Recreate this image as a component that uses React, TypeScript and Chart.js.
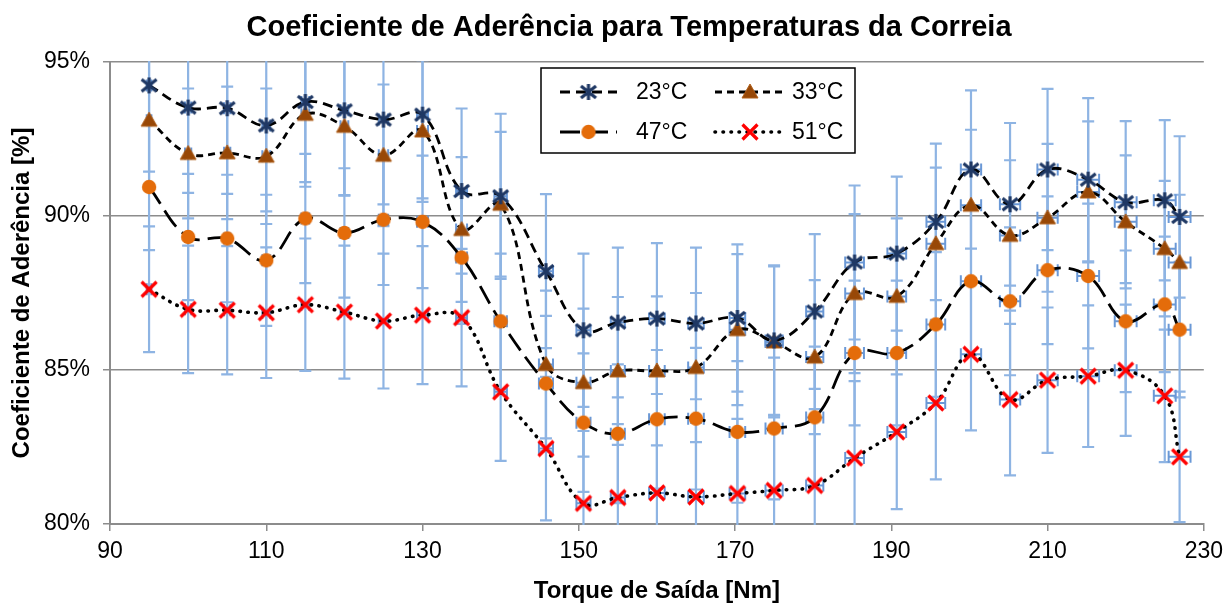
import React, { useEffect, useRef } from 'react';
import { Chart, registerables } from 'chart.js';

Chart.register(...registerables);

const FONT = "'Liberation Sans', Arial, sans-serif";

const chartTitle = 'Coeficiente de Aderência para Temperaturas da Correia';
const xTitle = 'Torque de Saída [Nm]';
const yTitle = 'Coeficiente de Aderência [%]';

const seriesLabels = ['23°C', '33°C', '47°C', '51°C'];

const torque = [95, 100, 105, 110, 115, 120, 125, 130, 135, 140, 145.8, 150.6, 155, 160, 165, 170.3, 175, 180.2, 185.3, 190.7, 195.7, 200.2, 205.2, 210, 215.2, 220, 225, 226.9];

const coef23 = [94.24, 93.52, 93.5, 92.94, 93.7, 93.43, 93.13, 93.29, 90.81, 90.64, 88.21, 86.29, 86.54, 86.67, 86.51, 86.69, 85.96, 86.9, 88.49, 88.78, 89.81, 91.51, 90.38, 91.51, 91.18, 90.45, 90.51, 89.97];
const coef33 = [93.11, 92.03, 92.05, 91.94, 93.3, 92.91, 91.97, 92.76, 89.56, 90.38, 85.18, 84.59, 84.97, 84.97, 85.08, 86.31, 85.91, 85.42, 87.48, 87.39, 89.1, 90.35, 89.37, 89.94, 90.78, 89.81, 88.94, 88.49];
const coef47 = [90.94, 89.32, 89.27, 88.56, 89.92, 89.45, 89.88, 89.81, 88.65, 86.58, 84.56, 83.29, 82.93, 83.4, 83.42, 82.99, 83.1, 83.46, 85.55, 85.55, 86.48, 87.88, 87.23, 88.24, 88.05, 86.58, 87.13, 86.31];
const coef51 = [87.62, 86.97, 86.94, 86.86, 87.12, 86.88, 86.59, 86.78, 86.7, 84.29, 82.45, 80.67, 80.86, 81.01, 80.88, 80.99, 81.09, 81.25, 82.14, 82.99, 83.93, 85.51, 84.04, 84.67, 84.8, 84.99, 84.16, 82.18];

const err23 = [2.8, 2.77, 2.78, 2.79, 2.75, 2.75, 2.75, 2.72, 2.68, 2.68, 2.5, 2.49, 2.43, 2.45, 2.46, 2.39, 2.44, 2.51, 2.5, 2.5, 2.54, 2.57, 2.64, 2.62, 2.65, 2.63, 2.6, 2.62];
const err33 = [2.1, 2.11, 2.15, 2.2, 2.2, 2.25, 2.3, 2.3, 2.35, 2.35, 2.4, 2.4, 2.4, 2.42, 2.42, 2.45, 2.45, 2.5, 2.58, 2.53, 2.47, 2.45, 2.44, 2.4, 2.29, 2.16, 2.2, 2.2];
const err47 = [2.05, 2.05, 2.07, 2.13, 2.1, 2.1, 2.12, 2.15, 2.15, 2.2, 2.2, 2.25, 2.25, 2.25, 2.3, 2.3, 2.3, 2.3, 2.35, 2.35, 2.35, 2.4, 2.4, 2.4, 2.35, 2.3, 2.2, 2.2];
const err51 = [2.04, 2.07, 2.08, 2.12, 2.15, 2.16, 2.19, 2.24, 2.23, 2.24, 2.33, 2.35, 2.38, 2.4, 2.4, 2.42, 2.45, 2.48, 2.5, 2.51, 2.48, 2.47, 2.46, 2.36, 2.3, 2.13, 2.15, 2.12];

const torqueErr = [0.3, 0.4, 0.4, 0.5, 0.5, 0.5, 0.6, 0.7, 0.7, 0.8, 0.9, 0.9, 0.9, 1.0, 1.0, 1.0, 1.1, 1.1, 1.2, 1.2, 1.2, 1.3, 1.3, 1.3, 1.4, 1.4, 1.4, 1.4];

const xTicksMin = 90;
const xTicksMax = 230;
const xTickStep = 20;
const yTicksMin = 80;
const yTicksMax = 95;
const yTickStep = 5;

const coefs = [coef23, coef33, coef47, coef51];
const errs = [err23, err33, err47, err51];

function makeMarker(kind: string): HTMLCanvasElement {
  const c = document.createElement('canvas');
  const s = 22;
  c.width = s;
  c.height = s;
  const g = c.getContext('2d') as CanvasRenderingContext2D;
  const m = s / 2;
  if (kind === 'star') {
    g.strokeStyle = '#1F3864';
    g.lineWidth = 3.2;
    g.beginPath();
    g.moveTo(m, m - 8);
    g.lineTo(m, m + 8);
    g.moveTo(m - 7.5, m - 6);
    g.lineTo(m + 7.5, m + 6);
    g.moveTo(m + 7.5, m - 6);
    g.lineTo(m - 7.5, m + 6);
    g.stroke();
  } else if (kind === 'triangle') {
    g.fillStyle = '#984807';
    g.strokeStyle = '#B0601C';
    g.lineWidth = 1;
    g.beginPath();
    g.moveTo(m, m - 8);
    g.lineTo(m + 8, m + 6);
    g.lineTo(m - 8, m + 6);
    g.closePath();
    g.fill();
    g.stroke();
  } else if (kind === 'circle') {
    g.fillStyle = '#E46C0A';
    g.beginPath();
    g.arc(m, m, 7.2, 0, Math.PI * 2);
    g.fill();
  } else {
    g.strokeStyle = '#FF0000';
    g.lineWidth = 3.2;
    g.beginPath();
    g.moveTo(m - 7.5, m - 7.5);
    g.lineTo(m + 7.5, m + 7.5);
    g.moveTo(m + 7.5, m - 7.5);
    g.lineTo(m - 7.5, m + 7.5);
    g.stroke();
  }
  return c;
}

export default function App() {
  const ref = useRef<HTMLCanvasElement | null>(null);

  useEffect(() => {
    const canvas = ref.current;
    if (!canvas) return;
    const markers = [makeMarker('star'), makeMarker('triangle'), makeMarker('circle'), makeMarker('x')];
    const dashes = [[10, 6], [7, 5], [20, 8], [0.5, 7.5]];
    const caps: CanvasLineCap[] = ['butt', 'butt', 'butt', 'round'];
    const widths = [2.8, 2.8, 2.8, 3.6];

    const errorBars = {
      id: 'errorBars',
      beforeDatasetsDraw(chart: any) {
        const { ctx, chartArea } = chart;
        const xs = chart.scales.x;
        const ys = chart.scales.y;
        ctx.save();
        ctx.beginPath();
        ctx.rect(chartArea.left, chartArea.top - 1, chartArea.right - chartArea.left, chartArea.bottom - chartArea.top + 2);
        ctx.clip();
        ctx.strokeStyle = '#8EB4E3';
        ctx.lineWidth = 2.2;
        coefs.forEach((vals, si) => {
          vals.forEach((v, i) => {
            const px = xs.getPixelForValue(torque[i]);
            const top = ys.getPixelForValue(v + errs[si][i]);
            const bot = ys.getPixelForValue(v - errs[si][i]);
            ctx.beginPath();
            ctx.moveTo(px, top);
            ctx.lineTo(px, bot);
            ctx.moveTo(px - 6, top);
            ctx.lineTo(px + 6, top);
            ctx.moveTo(px - 6, bot);
            ctx.lineTo(px + 6, bot);
            ctx.stroke();
          });
        });
        ctx.strokeStyle = '#6A98D6';
        ctx.lineWidth = 2;
        coefs.forEach((vals) => {
          vals.forEach((v, i) => {
            const py = ys.getPixelForValue(v);
            const l = xs.getPixelForValue(torque[i] - torqueErr[i]);
            const r = xs.getPixelForValue(torque[i] + torqueErr[i]);
            ctx.beginPath();
            ctx.moveTo(l, py);
            ctx.lineTo(r, py);
            ctx.moveTo(l, py - 6);
            ctx.lineTo(l, py + 6);
            ctx.moveTo(r, py - 6);
            ctx.lineTo(r, py + 6);
            ctx.stroke();
          });
        });
        ctx.restore();
      },
    };

    const overlay = {
      id: 'overlay',
      afterDraw(chart: any) {
        const { ctx } = chart;
        ctx.save();
        // title
        ctx.fillStyle = '#000';
        ctx.font = `bold 29px ${FONT}`;
        ctx.textAlign = 'center';
        ctx.textBaseline = 'alphabetic';
        ctx.fillText(chartTitle, 629, 35.5);
        // legend
        const bx = 541, by = 68, bw = 314, bh = 85;
        ctx.fillStyle = '#FFFFFF';
        ctx.fillRect(bx, by, bw, bh);
        ctx.strokeStyle = '#000000';
        ctx.lineWidth = 1.5;
        ctx.strokeRect(bx, by, bw, bh);
        const items = [
          { lx0: 560, lx1: 617, ty: 92, tx: 636 },
          { lx0: 715, lx1: 785, ty: 92, tx: 792 },
          { lx0: 560, lx1: 617, ty: 132, tx: 636 },
          { lx0: 715, lx1: 785, ty: 132, tx: 792 },
        ];
        items.forEach((it, i) => {
          ctx.strokeStyle = '#000';
          ctx.lineWidth = widths[i];
          ctx.lineCap = caps[i];
          ctx.setLineDash(dashes[i]);
          ctx.beginPath();
          ctx.moveTo(it.lx0, it.ty);
          ctx.lineTo(it.lx1, it.ty);
          ctx.stroke();
          ctx.setLineDash([]);
          const mk = markers[i];
          const cx = (it.lx0 + it.lx1) / 2;
          ctx.drawImage(mk, cx - mk.width / 2, it.ty - mk.height / 2);
          ctx.fillStyle = '#000';
          ctx.font = `23px ${FONT}`;
          ctx.textAlign = 'left';
          ctx.textBaseline = 'middle';
          ctx.fillText(seriesLabels[i], it.tx, it.ty + 1);
        });
        ctx.restore();
      },
    };

    const chart = new Chart(canvas, {
      type: 'line',
      data: {
        datasets: coefs.map((vals, si) => ({
          label: seriesLabels[si],
          data: vals.map((v, i) => ({ x: torque[i], y: v })),
          borderColor: '#000000',
          borderWidth: widths[si],
          borderDash: dashes[si],
          borderCapStyle: caps[si],
          tension: 0.4,
          fill: false,
          pointStyle: markers[si] as any,
          pointRadius: 8,
          pointHoverRadius: 8,
          clip: false as any,
        })),
      },
      options: {
        animation: false,
        responsive: true,
        maintainAspectRatio: false,
        layout: { padding: { left: 0, right: 23, top: 62, bottom: 0 } },
        plugins: {
          legend: { display: false },
          tooltip: { enabled: false },
          title: { display: false },
        },
        scales: {
          x: {
            type: 'linear',
            min: xTicksMin,
            max: xTicksMax,
            afterFit: (s: any) => { s.height = 83; },
            ticks: {
              stepSize: xTickStep,
              color: '#000',
              font: { family: FONT, size: 23 },
              padding: 7,
              maxRotation: 0,
            },
            grid: { drawOnChartArea: false, drawTicks: true, tickLength: 7, color: '#8C8C8C', lineWidth: 1.5 },
            border: { display: true, color: '#8C8C8C', width: 2 },
            title: {
              display: true,
              text: xTitle,
              color: '#000',
              font: { family: FONT, size: 24, weight: 'bold' },
              padding: { top: 0, bottom: 1 },
            },
          },
          y: {
            type: 'linear',
            min: yTicksMin,
            max: yTicksMax,
            afterFit: (s: any) => { s.width = 110; },
            ticks: {
              stepSize: yTickStep,
              color: '#000',
              font: { family: FONT, size: 23 },
              padding: 13,
              callback: (v: any) => `${v}%`,
            },
            grid: { drawOnChartArea: true, drawTicks: true, tickLength: 7, color: '#8C8C8C', lineWidth: 1.5 },
            border: { display: true, color: '#8C8C8C', width: 2 },
            title: {
              display: true,
              text: yTitle,
              color: '#000',
              font: { family: FONT, size: 24, weight: 'bold' },
              padding: { top: 8, bottom: 0 },
            },
          },
        },
      },
      plugins: [errorBars, overlay],
    });
    return () => chart.destroy();
  }, []);

  return (
    <div style={{ position: 'fixed', left: 0, top: 0, width: 1230, height: 607, background: '#fff' }}>
      <canvas ref={ref} />
    </div>
  );
}
